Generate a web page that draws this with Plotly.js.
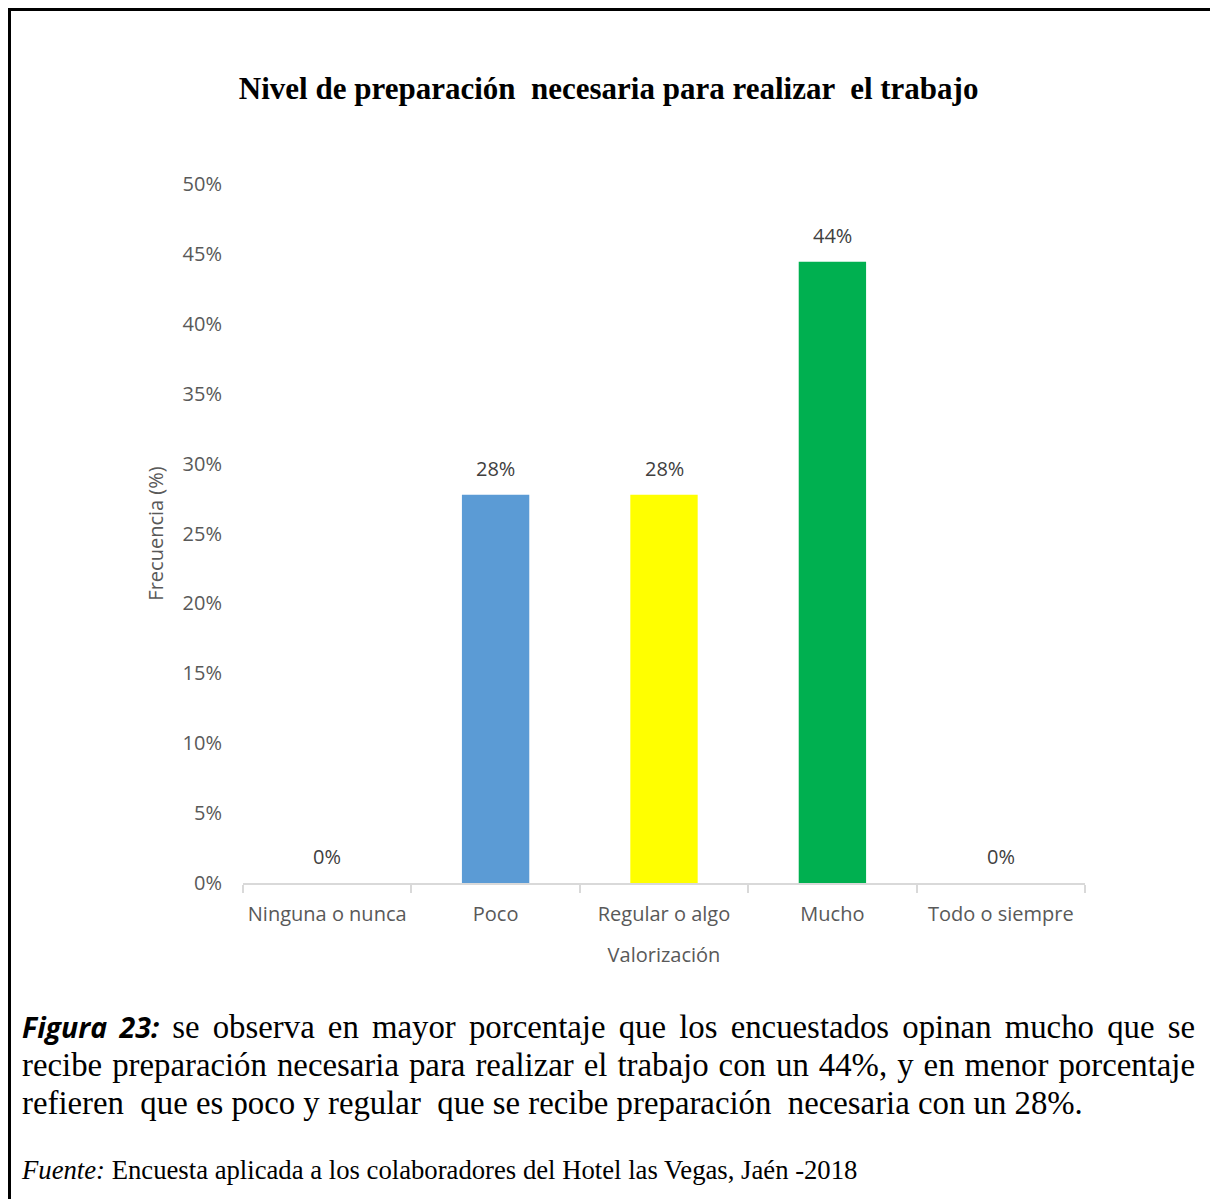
<!DOCTYPE html>
<html>
<head>
<meta charset="utf-8">
<script src="https://cdn.plot.ly/plotly-3.0.1.min.js"></script>
<style>
  html, body { margin: 0; padding: 0; background: #fff; }
  #wrap { position: relative; width: 1210px; height: 1199px; overflow: hidden; }
  #chart { position: absolute; left: 0; top: 0; width: 1210px; height: 1199px; }
  .cap { position: absolute; left: 22px; width: 1173px; font-family: "Liberation Serif", "Times New Roman", serif; font-size: 32.8px; color: #000; white-space: pre; line-height: 38px; }
  .just { text-align: justify; text-align-last: justify; }
  .fig { font-family: "Open Sans", sans-serif; font-weight: bold; font-style: italic; font-size: 28.5px; }
  .src { position: absolute; left: 22px; top: 1155px; font-family: "Liberation Serif", "Times New Roman", serif; font-size: 26.7px; line-height: 30px; color: #000; white-space: pre; }
</style>
</head>
<body>
<div id="wrap">
  <div id="chart"></div>
  <div class="cap just" style="top:1008px;"><span class="fig">Figura 23:</span> se observa en mayor porcentaje que los encuestados opinan mucho que se</div>
  <div class="cap just" style="top:1046px;">recibe preparación necesaria para realizar el trabajo con un 44%, y en menor porcentaje</div>
  <div class="cap" style="top:1084px;">refieren  que es poco y regular  que se recibe preparación  necesaria con un 28%.</div>
  <div class="src"><i>Fuente:</i> Encuesta aplicada a los colaboradores del Hotel las Vegas, Jaén -2018</div>
</div>
<script>
const categories = ["Ninguna o nunca", "Poco", "Regular o algo", "Mucho", "Todo o siempre"];
const values = [0, 27.78, 27.78, 44.44, 0];
const barColors = ["#A5A5A5", "#5B9BD5", "#FFFF00", "#00B050", "#A5A5A5"];
const yTickValues = [0, 5, 10, 15, 20, 25, 30, 35, 40, 45, 50];
const chartTitle = "Nivel de preparación  necesaria para realizar  el trabajo";
const xTitle = "Valorización";
const yTitle = "Frecuencia (%)";

const sans = "Open Sans, sans-serif";
const labelAnnotations = categories.map((c, i) => ({
  x: c, y: values[i], xref: "x", yref: "y",
  text: Math.round(values[i]) + "%",
  showarrow: false, yanchor: "bottom", yshift: 11,
  font: { family: sans, size: 20, color: "#404040" }
}));

const trace = {
  type: "bar",
  x: categories,
  y: values,
  marker: { color: barColors },
  hoverinfo: "skip"
};

const layout = {
  width: 1210, height: 1199,
  margin: { l: 243, r: 125, t: 184, b: 316 },
  paper_bgcolor: "#fff", plot_bgcolor: "#fff",
  showlegend: false,
  bargap: 0.6,
  title: {
    text: "<b>" + chartTitle + "</b>",
    font: { family: "Liberation Serif, Times New Roman, serif", size: 31, color: "#000" },
    xref: "container", yref: "container", x: 0.503, y: 1 - 88 / 1199,
    xanchor: "center", yanchor: "middle"
  },
  xaxis: {
    type: "category",
    showline: true, linecolor: "#D9D9D9", linewidth: 2,
    ticks: "outside", tickson: "boundaries", ticklen: 8, tickcolor: "#D9D9D9", tickwidth: 2,
    tickangle: 0,
    ticklabelstandoff: 12,
    tickfont: { family: sans, size: 20, color: "#595959" },
    showgrid: false, zeroline: false, fixedrange: true,
    title: { text: xTitle, font: { family: sans, size: 20, color: "#595959" }, standoff: 22 }
  },
  yaxis: {
    range: [0, 50],
    tickvals: yTickValues,
    ticktext: yTickValues.map(v => v + "%"),
    showline: false, showgrid: false, zeroline: false, ticks: "",
    ticklabelstandoff: 20,
    tickfont: { family: sans, size: 20, color: "#595959" },
    fixedrange: true,
    title: { text: yTitle, font: { family: sans, size: 20, color: "#595959" }, standoff: 13 }
  },
  annotations: labelAnnotations,
  shapes: [
    { type: "line", xref: "paper", yref: "paper", x0: (8 - 243) / 842, x1: (1210 - 243) / 842, y0: (883 - 9.5) / 699, y1: (883 - 9.5) / 699, line: { color: "#000", width: 3 } },
    { type: "line", xref: "paper", yref: "paper", x0: (9.5 - 243) / 842, x1: (9.5 - 243) / 842, y0: (883 - 8) / 699, y1: (883 - 1199) / 699, line: { color: "#000", width: 3 } }
  ]
};

Plotly.newPlot("chart", [trace], layout, { displayModeBar: false, staticPlot: true });
</script>
</body>
</html>
